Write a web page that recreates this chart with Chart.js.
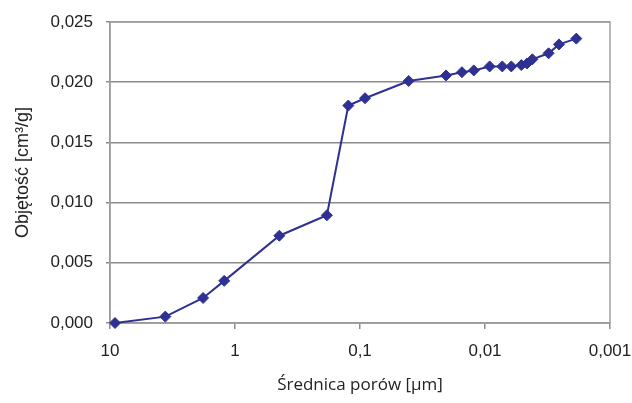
<!DOCTYPE html>
<html>
<head>
<meta charset="utf-8">
<script src="https://cdn.jsdelivr.net/npm/chart.js@4/dist/chart.umd.min.js"></script>
<style>
  body { margin: 0; background: #fff; }
  #box { width: 632px; height: 403px; }
</style>
</head>
<body>
<div id="box"><canvas id="grafica"></canvas></div>
<script>
// średnica porów [µm]
const srednice = [9.12, 3.61, 1.80, 1.22, 0.442, 0.184, 0.124, 0.0912, 0.0408, 0.0205, 0.0153,
  0.0123, 0.00918, 0.00727, 0.00616, 0.00512, 0.00461, 0.00418, 0.0031, 0.00256, 0.00186];
// objętość [cm3/g]
const objetosci = [0.0000, 0.00053, 0.00208, 0.0035, 0.00725, 0.00895, 0.01806, 0.01867, 0.0201, 0.02056, 0.02083,
  0.02098, 0.02131, 0.02131, 0.02131, 0.02142, 0.02156, 0.0219, 0.0224, 0.02314, 0.02362];
const xTicks = [10, 1, 0.1, 0.01, 0.001];
const xTickLabels = ['10', '1', '0,1', '0,01', '0,001'];

const punkty = srednice.map((d, i) => ({ x: d, y: objetosci[i] }));
const granat = '#2e3192';
const szary = '#8c8c8c';

const ramka = {
  id: 'ramka',
  beforeDatasetsDraw(chart) {
    const a = chart.chartArea;
    const ctx = chart.ctx;
    ctx.save();
    ctx.strokeStyle = '#a0a0a0';
    ctx.lineWidth = 1.5;
    ctx.strokeRect(a.left, a.top, a.right - a.left, a.bottom - a.top);
    ctx.restore();
  }
};

const graph = document.querySelector('#grafica');
new Chart(graph, {
  type: 'scatter',
  data: {
    datasets: [{
      data: punkty,
      showLine: true,
      borderColor: granat,
      backgroundColor: granat,
      borderWidth: 2,
      pointStyle: 'rectRot',
      pointRadius: 5.5,
      pointBorderWidth: 1,
      pointBorderColor: granat,
      clip: false
    }]
  },
  options: {
    responsive: true,
    maintainAspectRatio: false,
    animation: false,
    layout: { padding: { left: 0, right: 22, top: 22, bottom: 2 } },
    plugins: { legend: { display: false }, tooltip: { enabled: false } },
    scales: {
      x: {
        type: 'logarithmic',
        reverse: true,
        min: 0.001,
        max: 10,
        afterBuildTicks: (scale) => { scale.ticks = xTicks.map(v => ({ value: v, major: true })); },
        afterFit: (scale) => {
          scale.height = 78;
          scale.paddingLeft = 0;
          scale.paddingRight = 0;
        },
        ticks: {
          autoSkip: false,
          maxRotation: 0,
          color: '#222',
          font: { family: 'Liberation Sans', size: 17 },
          padding: 12,
          callback: (v) => xTickLabels[xTicks.indexOf(v)]
        },
        grid: { drawOnChartArea: false, drawTicks: true, tickLength: 6, color: szary, lineWidth: 1.5 },
        border: { color: szary, width: 1.5 },
        title: {
          display: true,
          text: 'Średnica porów [µm]',
          color: '#222',
          font: { family: 'Open Sans', size: 17 },
          padding: { top: 0, bottom: 6 }
        }
      },
      y: {
        min: 0,
        max: 0.025,
        afterFit: (scale) => {
          scale.width = 110;
          scale.paddingTop = 0;
          scale.paddingBottom = 0;
        },
        ticks: {
          stepSize: 0.005,
          color: '#222',
          font: { family: 'Liberation Sans', size: 17 },
          padding: 13,
          callback: (v) => v.toFixed(3).replace('.', ',')
        },
        grid: { color: szary, lineWidth: 1.5, tickLength: 4 },
        border: { color: szary, width: 1.5 },
        title: {
          display: true,
          text: 'Objętość [cm³/g]',
          color: '#222',
          font: { family: 'Liberation Sans', size: 18 },
          padding: { top: 12, bottom: 0 }
        }
      }
    }
  },
  plugins: [ramka]
});
</script>
</body>
</html>
